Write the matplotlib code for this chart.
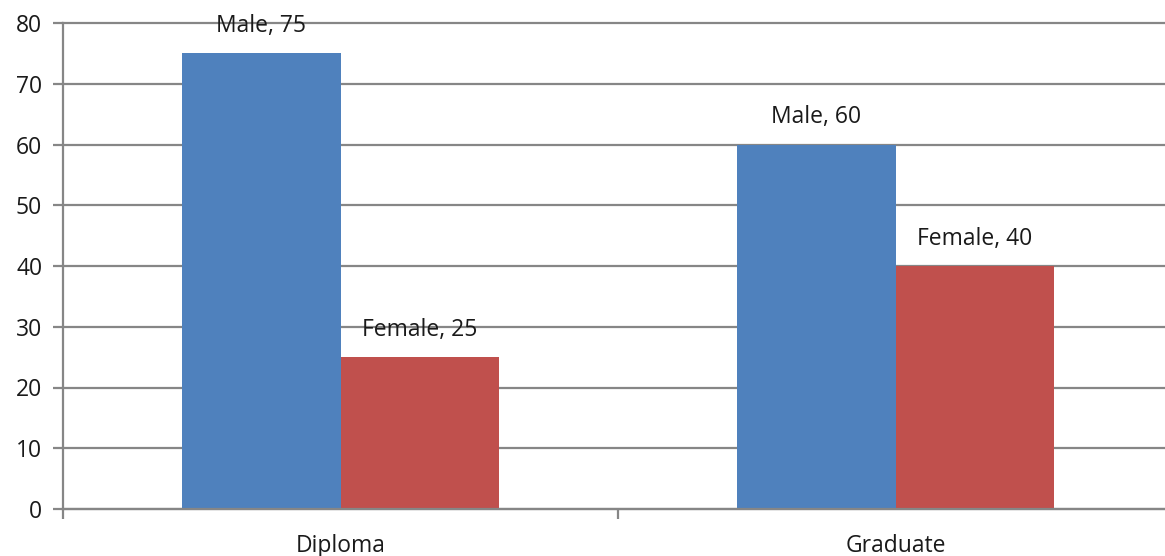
import numpy as np
import matplotlib.pyplot as plt

plt.rcParams['font.family'] = ['Open Sans', 'DejaVu Sans']

categories = ['Diploma', 'Graduate']
male = [75, 60]
female = [25, 40]

blue = '#4F81BD'
red = '#C0504D'
grey = '#868686'

fig = plt.figure(figsize=(11.65, 5.56), dpi=100)
# axes runs a bit past the right edge of the figure
ax = fig.add_axes([63 / 1165, 47 / 556, 1110 / 1165, 486 / 556])

x = np.arange(len(categories))
w = 0.285
b1 = ax.bar(x - w / 2, male, w, color=blue, zorder=2)
b2 = ax.bar(x + w / 2, female, w, color=red, zorder=2)

for bars, name, vals in [(b1, 'Male', male), (b2, 'Female', female)]:
    for r, v in zip(bars, vals):
        ax.annotate(f'{name}, {v}', (r.get_x() + r.get_width() / 2, v),
                    xytext=(0, 19.5), textcoords='offset points',
                    ha='center', va='center', fontsize=16.5, color='#1a1a1a',
                    zorder=3)

ax.set_ylim(0, 80)
ax.set_yticks(range(0, 81, 10))
ax.set_xlim(-0.5, len(categories) - 0.5)
ax.set_xticks(np.arange(-0.5, len(categories), 1.0))
ax.set_xticklabels([])
ax.set_xticks(x, minor=True)
ax.set_xticklabels(categories, minor=True)

ax.grid(axis='y', color=grey, linewidth=1.6, zorder=0)
ax.set_axisbelow(True)
for gl in ax.get_ygridlines():
    gl.set_clip_on(False)
for s in ['top', 'right']:
    ax.spines[s].set_visible(False)
for s in ['left', 'bottom']:
    ax.spines[s].set_color(grey)
    ax.spines[s].set_linewidth(1.6)
ax.tick_params(axis='y', which='major', length=7, width=1.6, color=grey,
               labelsize=16.5, pad=8, labelcolor='#1a1a1a')
ax.tick_params(axis='x', which='major', length=7, width=1.6, color=grey)
ax.tick_params(axis='x', which='minor', length=0, labelsize=16.5, pad=18,
               labelcolor='#1a1a1a')

fig.savefig('out.png', dpi=100)
